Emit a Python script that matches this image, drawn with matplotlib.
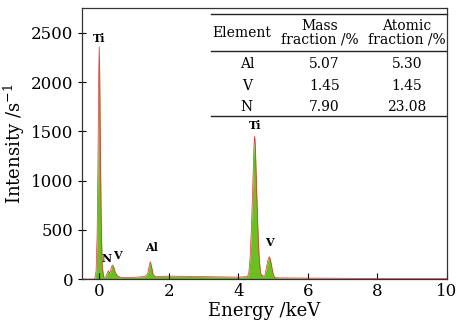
import matplotlib
matplotlib.use("Agg")
import matplotlib.pyplot as plt

plt.rcParams['font.family'] = ['DejaVu Serif']
plt.rcParams['mathtext.fontset'] = 'dejavuserif'

# EDS spectrum (energy in keV, intensity in counts/s)
energy = [-0.5, -0.13, -0.09, -0.06, -0.035, -0.015, 0.0, 0.015, 0.035, 0.06,
          0.09, 0.13, 0.18, 0.22, 0.26, 0.3, 0.33, 0.36, 0.39, 0.42, 0.46,
          0.52, 0.6, 0.8, 1.0, 1.3, 1.39, 1.43, 1.47, 1.51, 1.55, 1.62, 2.0,
          2.5, 3.0, 3.5, 4.0, 4.26, 4.3, 4.34, 4.38, 4.42, 4.45, 4.47, 4.49,
          4.52, 4.56, 4.6, 4.64, 4.7, 4.77, 4.82, 4.86, 4.89, 4.92, 4.96,
          5.01, 5.06, 5.2, 6.0, 7.0, 8.0, 9.0, 10.0]
intensity = [0, 0, 80, 450, 1200, 2050, 2360, 2100, 1300, 550,
             120, 20, 20, 50, 84, 60, 90, 130, 142, 120, 70,
             35, 20, 15, 18, 25, 50, 120, 176, 120, 45, 25, 30,
             28, 25, 22, 20, 25, 60, 220, 550, 1000, 1350, 1450, 1350,
             1000, 550, 220, 60, 28, 45, 140, 205, 227, 205, 130,
             40, 15, 12, 10, 8, 6, 5, 5]

# peak labels: (text, energy, intensity)
peak_names = ['Ti', 'N', 'V', 'Al', 'Ti', 'V']
peak_x = [0.0, 0.22, 0.53, 1.5, 4.47, 4.9]
peak_y = [2390, 150, 180, 260, 1500, 320]

# composition table
col_heads = ['Element', 'Mass\nfraction /%', 'Atomic\nfraction /%']
elements = ['Al', 'V', 'N']
mass_frac = ['5.07', '1.45', '7.90']
atomic_frac = ['5.30', '1.45', '23.08']

fig = plt.figure(figsize=(4.57, 3.26), dpi=100)
ax = fig.add_axes([0.179, 0.144, 0.799, 0.831])

ax.fill_between(energy, intensity, 0, color='#6cbf1e', lw=0)
ax.plot(energy, intensity, color='#e0303a', lw=0.5)

for name, px, py in zip(peak_names, peak_x, peak_y):
    ax.text(px, py, name, ha='center', va='bottom', fontsize=8,
            fontweight='bold')

ax.set_xlim(-0.5, 10)
ax.set_ylim(0, 2750)
ax.set_xticks([0, 2, 4, 6, 8, 10])
ax.set_yticks([0, 500, 1000, 1500, 2000, 2500])
ax.tick_params(axis='x', direction='in', length=4, labelsize=12, pad=3)
ax.tick_params(axis='y', direction='inout', length=6, labelsize=12, pad=3)
for sp in ax.spines.values():
    sp.set_color('#333333')
    sp.set_linewidth(0.9)

ax.set_xlabel('Energy /keV', fontsize=13, labelpad=1)
ax.set_ylabel('Intensity /s$^{-1}$', fontsize=13, labelpad=3)

# table drawn in axes coordinates
tx0, tx1 = 0.355, 1.0
y_top, y_head, y_bot = 0.977, 0.841, 0.601
ax.plot([tx0, tx1], [y_top, y_top], transform=ax.transAxes, color='#222222',
        lw=1.0, clip_on=False)
ax.plot([tx0, tx1], [y_head, y_head], transform=ax.transAxes,
        color='#222222', lw=1.0)
ax.plot([tx0, tx1], [y_bot, y_bot], transform=ax.transAxes, color='#222222',
        lw=1.0)

head_x = [0.438, 0.652, 0.89]
ax.text(head_x[0], 0.908, col_heads[0], transform=ax.transAxes, ha='center',
        va='center', fontsize=10)
for cx, head in zip(head_x[1:], col_heads[1:]):
    ax.text(cx, 0.908, head, transform=ax.transAxes, ha='center',
            va='center', fontsize=10, linespacing=0.95)

col_x = [0.452, 0.665, 0.89]
row_y = [0.792, 0.714, 0.635]
for ry, el, m, a in zip(row_y, elements, mass_frac, atomic_frac):
    ax.text(col_x[0], ry, el, transform=ax.transAxes, ha='center',
            va='center', fontsize=10)
    ax.text(col_x[1], ry, m, transform=ax.transAxes, ha='center',
            va='center', fontsize=10)
    ax.text(col_x[2], ry, a, transform=ax.transAxes, ha='center',
            va='center', fontsize=10)

fig.savefig('out.png', dpi=100)
